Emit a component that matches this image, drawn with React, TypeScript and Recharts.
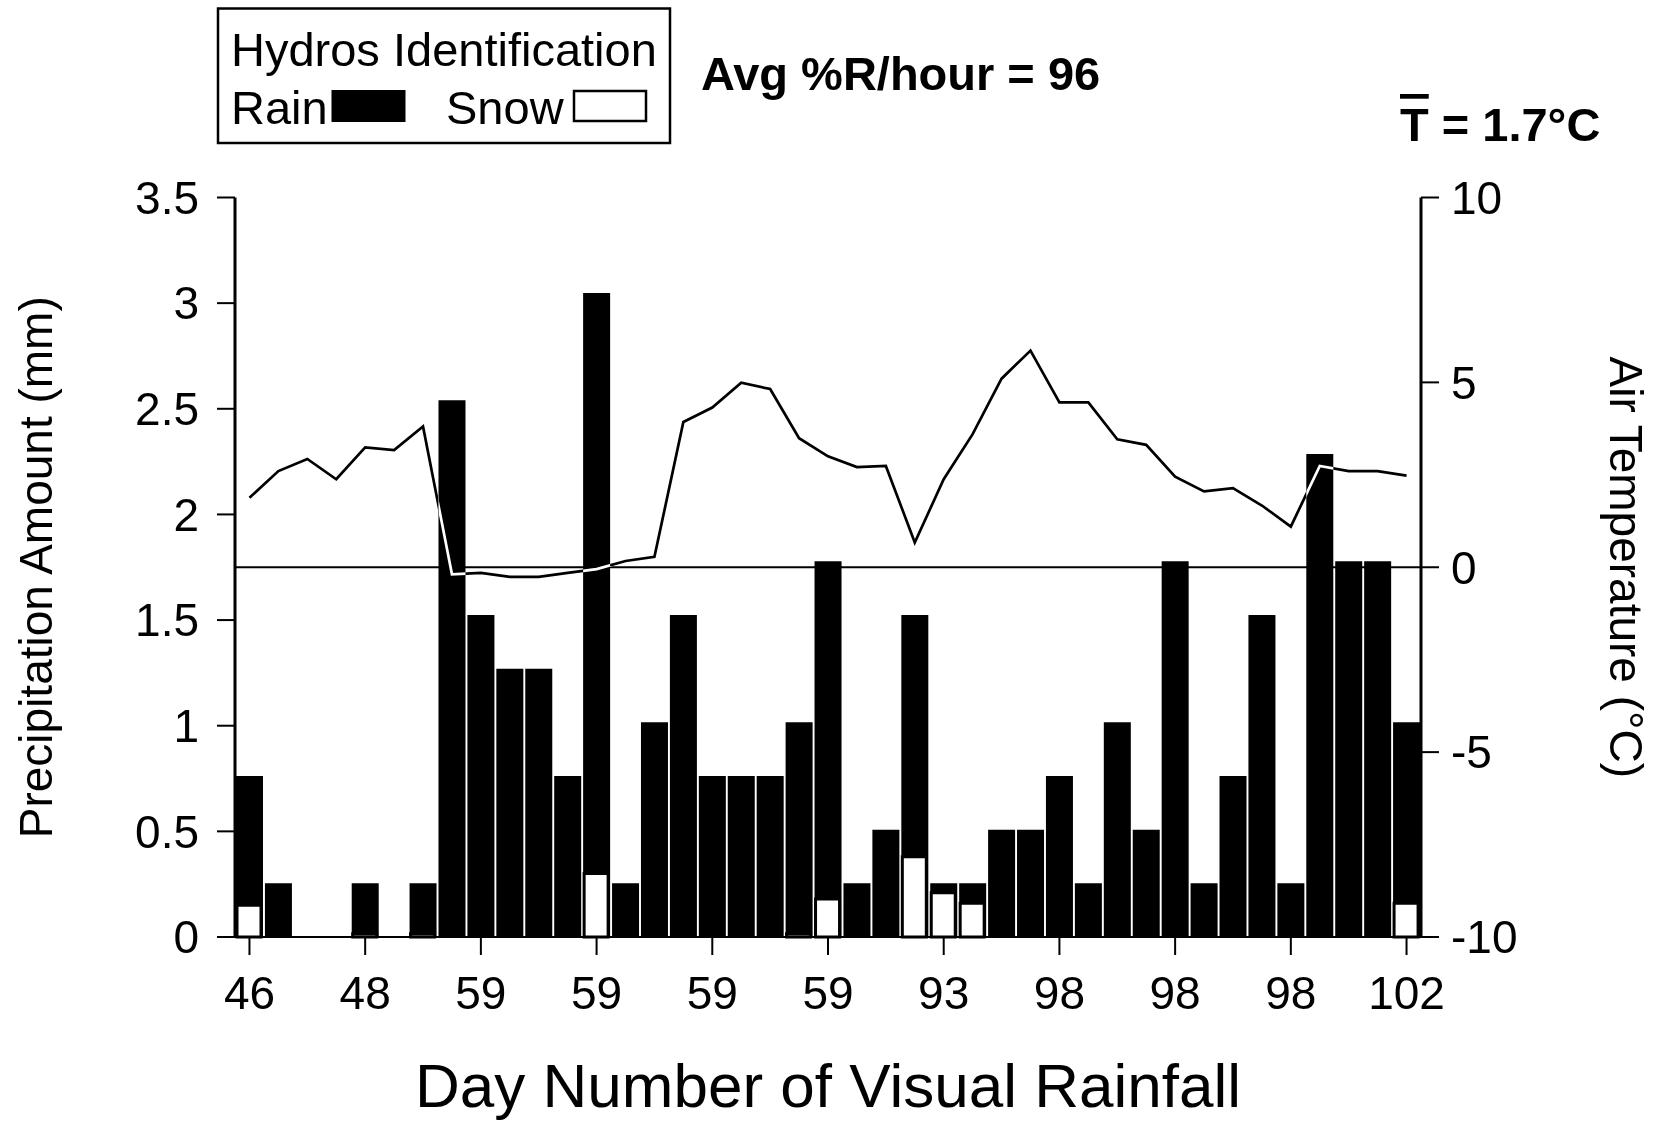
import React from "react"
import { ComposedChart, Bar, Line, XAxis, YAxis, ReferenceLine, Legend } from "recharts"

// day number for each hourly bar (only every 4th is labelled on the axis)
const days = [
  46, 46, 46, 47, 48, 48, 48, 59, 59, 59, 59, 59, 59, 59,
  59, 59, 59, 59, 59, 59, 59, 59, 93, 93, 93, 93, 98, 98,
  98, 98, 98, 98, 98, 98, 98, 98, 98, 98, 98, 102, 102,
]

// hourly rain amount (mm), 0.254 mm tips
const rain = [
  0.762, 0.254, 0, 0, 0.254, 0, 0.254, 2.54, 1.524, 1.27, 1.27, 0.762, 3.048, 0.254,
  1.016, 1.524, 0.762, 0.762, 0.762, 1.016, 1.778, 0.254, 0.508, 1.524, 0.254, 0.254, 0.508, 0.508,
  0.762, 0.254, 1.016, 0.508, 1.778, 0.254, 0.762, 1.524, 0.254, 2.286, 1.778, 1.778, 1.016,
]

// part identified as snow (mm)
const snow = [
  0.15, 0, 0, 0, 0.015, 0, 0.015, 0, 0, 0, 0, 0, 0.3, 0,
  0, 0, 0, 0, 0, 0.015, 0.18, 0, 0, 0.38, 0.21, 0.16, 0, 0,
  0, 0, 0, 0, 0, 0, 0, 0, 0, 0, 0, 0, 0.16,
]

// air temperature (°C)
const temp = [
  1.88, 2.6, 2.93, 2.38, 3.24, 3.17, 3.81, -0.19, -0.15, -0.26, -0.26, -0.15, -0.05, 0.17,
  0.28, 3.93, 4.32, 4.99, 4.82, 3.49, 3.0, 2.71, 2.74, 0.67, 2.38, 3.6, 5.1, 5.86,
  4.46, 4.46, 3.46, 3.31, 2.45, 2.05, 2.14, 1.67, 1.1, 2.74, 2.6, 2.6, 2.48,
]

const mmTicks = [0, 0.5, 1, 1.5, 2, 2.5, 3, 3.5]
const tempTicks = [-10, -5, 0, 5, 10]

const RAIN_COLOR = "#000"
const SNOW_COLOR = "#fff"
const FONT = '"Liberation Sans", Arial, Helvetica, sans-serif'

const data = days.map((d, i) => ({ hour: i, day: d, rain: rain[i], snow: snow[i], temp: temp[i] }))

const renderLegend = () => (
  <svg width={1661} height={160} style={{ display: "block", fontFamily: FONT }}>
    <rect x={218} y={8.5} width={452} height={134.5} fill="none" stroke="#000" strokeWidth={2.5} />
    <text x={231} y={66} fontSize={47} fill="#000">Hydros Identification</text>
    <text x={231} y={124} fontSize={47} fill="#000">Rain</text>
    <rect x={331.5} y={90} width={74} height={32} fill={RAIN_COLOR} />
    <text x={446} y={124} fontSize={47} fill="#000">Snow</text>
    <rect x={574} y={91} width={72} height={30} fill={SNOW_COLOR} stroke="#000" strokeWidth={2.5} />
    <text x={701} y={90} fontSize={47} fontWeight="bold" fill="#000">Avg %R/hour = 96</text>
    <text x={1400} y={141} fontSize={47} fontWeight="bold" fill="#000">
      <tspan style={{ textDecoration: "overline" }}>T</tspan> = 1.7°C
    </text>
  </svg>
)

export default function App() {
  return (
    <div
      style={{
        position: "absolute",
        left: 0,
        top: 0,
        width: 1661,
        height: 1122,
        background: "#fff",
        isolation: "isolate",
        fontFamily: FONT,
      }}
    >
      <style>{`.temp-line { mix-blend-mode: difference; }`}</style>
      <ComposedChart
        width={1661}
        height={1122}
        data={data}
        margin={{ top: 197.5, right: 0, bottom: 0, left: 0 }}
        barCategoryGap={1.1}
      >
        <XAxis
          xAxisId="day"
          dataKey="hour"
          interval={3}
          tickFormatter={(v) => String(days[v])}
          tick={{ fill: "#000", fontSize: 46 }}
          tickSize={18}
          tickMargin={21}
          tickLine={{ stroke: "#000", strokeWidth: 2 }}
          axisLine={{ stroke: "#000", strokeWidth: 2 }}
          height={185}
          label={{ value: "Day Number of Visual Rainfall", position: "insideBottom", offset: 15, fill: "#000", fontSize: 62 }}
        />
        <XAxis
          xAxisId="snow"
          dataKey="hour"
          orientation="top"
          height={0}
          tick={false}
          tickLine={false}
          axisLine={{ stroke: "#000", strokeWidth: 2 }}
        />
        <YAxis
          yAxisId="mm"
          domain={[0, 3.5]}
          ticks={mmTicks}
          width={235}
          tick={{ fill: "#000", fontSize: 46 }}
          tickSize={18}
          tickMargin={18}
          tickLine={{ stroke: "#000", strokeWidth: 2 }}
          axisLine={{ stroke: "#000", strokeWidth: 3 }}
          label={{
            value: "Precipitation Amount (mm)",
            angle: -90,
            position: "insideLeft",
            offset: 36,
            fill: "#000",
            fontSize: 46,
            style: { textAnchor: "middle" },
          }}
        />
        <YAxis
          yAxisId="temp"
          orientation="right"
          domain={[-10, 10]}
          ticks={tempTicks}
          width={240}
          tick={{ fill: "#000", fontSize: 46 }}
          tickSize={18}
          tickMargin={12}
          tickLine={{ stroke: "#000", strokeWidth: 2 }}
          axisLine={{ stroke: "#000", strokeWidth: 3 }}
          label={{
            value: "Air Temperature (°C)",
            angle: 90,
            position: "insideRight",
            offset: 35,
            fill: "#000",
            fontSize: 46,
            style: { textAnchor: "middle" },
          }}
        />
        <ReferenceLine xAxisId="day" yAxisId="temp" y={0} stroke="#000" strokeWidth={2} />
        <Bar xAxisId="day" yAxisId="mm" dataKey="rain" fill={RAIN_COLOR} barSize={27} isAnimationActive={false} />
        <Bar
          xAxisId="snow"
          yAxisId="mm"
          dataKey="snow"
          fill={SNOW_COLOR}
          stroke="#000"
          strokeWidth={3}
          barSize={24}
          isAnimationActive={false}
        />
        <Line
          xAxisId="day"
          yAxisId="temp"
          type="linear"
          dataKey="temp"
          stroke="#fff"
          strokeWidth={2.7}
          dot={false}
          className="temp-line"
          isAnimationActive={false}
        />
        <Legend
          layout="horizontal"
          verticalAlign="middle"
          align="center"
          content={renderLegend}
          wrapperStyle={{ position: "absolute", top: 0, left: 0, width: 1661, height: 160 }}
        />
      </ComposedChart>
    </div>
  )
}
